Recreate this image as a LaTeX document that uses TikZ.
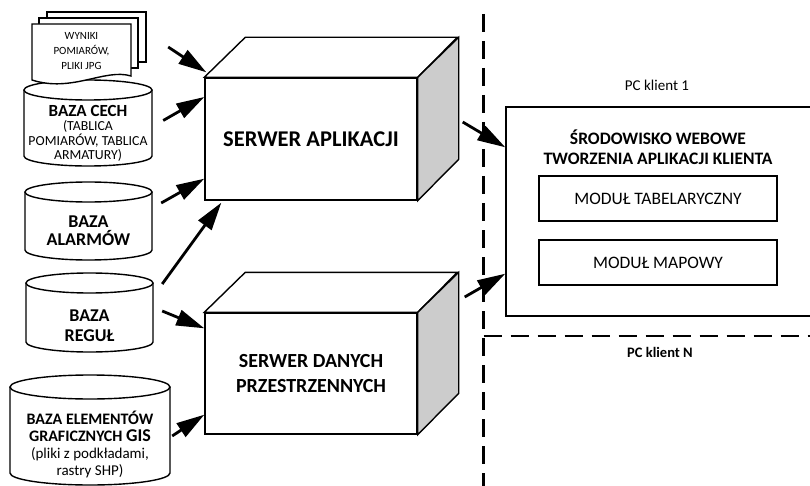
\documentclass[tikz,border=0pt]{standalone}
\usepackage{fontspec}
\setmainfont{Carlito}
\usetikzlibrary{arrows.meta, calc}

% database cylinder: centre x, top, bottom, half width, radius of the ends
\newcommand{\dbcyl}[5]{%
  \draw[outline] (#1-#4,#2+#5) -- (#1-#4,#3-#5) arc[start angle=180, end angle=0, x radius=#4, y radius=#5] -- (#1+#4,#2+#5);
  \draw[outline] (#1,#2+#5) ellipse[x radius=#4, y radius=#5];
}

\begin{document}
\begin{tikzpicture}[x=1pt, y=-1pt,
    every node/.style={inner sep=0pt, align=center},
    outline/.style={draw, line width=1.4pt, fill=white},
    dbtext/.style={font=\fontsize{13.8}{14.5}\selectfont},
    server/.style={outline, minimum width=212pt, minimum height=122pt, font=\fontsize{22.5}{25}\selectfont\bfseries},
    module/.style={draw, line width=1.4pt, minimum width=238pt, minimum height=45pt, font=\fontsize{17.5}{19}\selectfont},
    arr/.style={line width=2.8pt, -{Triangle[length=28pt, width=16pt]}},
    sep/.style={line width=2.4pt, dash pattern=on 18pt off 9pt}]
    \useasboundingbox (0,0) rectangle (810,486);
    \clip (0,0) rectangle (810,486);

    % databases
    \dbcyl{88}{80}{166}{64}{10}
    \dbcyl{88.5}{182}{260}{63.5}{10}
    \dbcyl{89.5}{273}{352}{63.5}{10}
    \dbcyl{90}{375}{485}{80}{12}
    \node[dbtext, minimum width=128pt, minimum height=66pt] (cech) at (88,133.5) {{\fontsize{17}{16}\selectfont\bfseries BAZA CECH}\\(TABLICA\\POMIARÓW, TABLICA\\ARMATURY)};
    \node[minimum width=127pt, minimum height=58pt, font=\fontsize{18}{18}\selectfont\bfseries] (alarm) at (88.5,231) {BAZA\\ALARMÓW};
    \node[minimum width=127pt, minimum height=59pt, font=\fontsize{18}{20}\selectfont\bfseries] (regul) at (89.5,326) {BAZA\\REGUŁ};
    \node[dbtext, minimum width=160pt, minimum height=86pt, font=\fontsize{15}{17}\selectfont] (gis) at (90,444) {{\fontsize{16}{17}\selectfont\bfseries BAZA ELEMENTÓW}\\{\fontsize{16}{17}\selectfont\bfseries GRAFICZNYCH {\fontsize{18}{17}\selectfont GIS}}\\(pliki z podkładami,\\rastry SHP)};

    % stack of documents
    \node[outline, minimum width=99pt, minimum height=50pt] (sheetc) at (96.5,37) {};
    \node[outline, minimum width=99pt, minimum height=50pt] (sheetb) at (88.5,43) {};
    \draw[outline] (32,24) -- (131,24) -- (131,76) .. controls (105,68) and (72,93) .. (32,80) -- cycle;
    \node[minimum width=99pt, minimum height=52pt, font=\fontsize{11}{15}\selectfont] (wyniki) at (81.5,51) {WYNIKI\\POMIARÓW,\\PLIKI JPG};

    % servers
    \node[server] (app) at (311,139) {SERWER APLIKACJI};
    \draw[outline] (app.north west) -- ++(41,-40) -- ++(212,0) -- (app.north east) -- cycle;
    \draw[outline, fill=black!20] (app.north east) -- ++(41,-40) -- ++(0,122) -- (app.south east) -- cycle;
    \node[server, minimum height=121pt, font=\fontsize{20}{25}\selectfont\bfseries] (geo) at (311,373.5) {SERWER DANYCH\\PRZESTRZENNYCH};
    \draw[outline] (geo.north west) -- ++(41,-40) -- ++(212,0) -- (geo.north east) -- cycle;
    \draw[outline, fill=black!20] (geo.north east) -- ++(41,-40) -- ++(0,121) -- (geo.south east) -- cycle;

    % client side
    \node[draw, line width=1.4pt, minimum width=364pt, minimum height=209pt] (client) at (688,211.5) {};
    \node[font=\fontsize{17.5}{20}\selectfont\bfseries] (web) at (658,147.5) {ŚRODOWISKO WEBOWE\\TWORZENIA APLIKACJI KLIENTA};
    \node[module] (tab) at (658,198.5) {MODUŁ TABELARYCZNY};
    \node[module] (map) at (658,262.5) {MODUŁ MAPOWY};
    \node[font=\fontsize{15}{15}\selectfont] (pc1) at (657,85) {PC klient 1};
    \node[font=\fontsize{14.5}{15}\selectfont\bfseries] (pcn) at (660,352) {PC klient N};
    \coordinate (vtop) at (483.5,14);
    \coordinate (vbot) at (483.5,490);
    \coordinate (hend) at (815,336);
    \draw[sep] (vtop) -- (vbot);
    \draw[sep] (vtop |- hend) -- (hend);

    % arrows
    \draw[arr] ([shift={(37,-4)}]wyniki.east) -- ([shift={(2,-5)}]app.north west);
    \draw[arr] ([shift={(11,-13)}]cech.east) -- ([shift={(0,-42)}]app.west);
    \draw[arr] ([shift={(9,-28)}]alarm.east) -- ([shift={(0,-22)}]app.south west);
    \draw[arr] ([shift={(9,-42)}]regul.east) -- ([shift={(17,2)}]app.south west);
    \draw[arr] ([shift={(9,-15)}]regul.east) -- ([shift={(0,16)}]geo.north west);
    \draw[arr] ([shift={(2,-8)}]gis.east) -- ([shift={(0,-20)}]geo.south west);
    \draw[arr] ([shift={(45,-17)}]app.east) -- ([shift={(0,41)}]client.north west);
    \draw[arr] ([shift={(47,-76.5)}]geo.east) -- ([shift={(0,-43)}]client.south west);
\end{tikzpicture}
\end{document}
